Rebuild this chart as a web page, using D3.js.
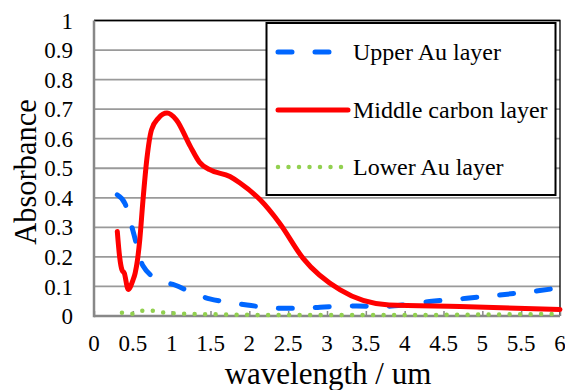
<!DOCTYPE html>
<html>
<head>
<meta charset="utf-8">
<script src="https://cdn.jsdelivr.net/npm/d3@7"></script>
<style>
  body { margin: 0; background: #fff; }
</style>
</head>
<body>
<div id="chart"></div>
<script>
// data
const upperX = [0.3, 0.4, 0.5, 0.63, 0.85, 1.04, 1.27, 1.49, 1.73, 1.97, 2.2, 2.42, 2.67, 2.91, 3.14, 3.38, 3.68, 4.0, 4.32, 4.8, 5.29, 5.74, 6.0];
const upperY = [0.41, 0.38, 0.29, 0.17, 0.12, 0.105, 0.078, 0.058, 0.047, 0.037, 0.03, 0.026, 0.026, 0.03, 0.032, 0.034, 0.032, 0.038, 0.049, 0.06, 0.073, 0.086, 0.096];

const middleX = [0.3, 0.33, 0.36, 0.39, 0.44, 0.5, 0.53, 0.56, 0.59, 0.63, 0.68, 0.74, 0.83, 0.94, 1.06, 1.24, 1.36, 1.49, 1.75, 1.88, 2.14, 2.39, 2.69, 3.17, 3.8, 4.71, 6.0];
const middleY = [0.286, 0.2, 0.156, 0.145, 0.09, 0.12, 0.145, 0.19, 0.26, 0.39, 0.53, 0.63, 0.67, 0.687, 0.664, 0.574, 0.52, 0.495, 0.472, 0.45, 0.393, 0.314, 0.196, 0.088, 0.037, 0.032, 0.022];

const lowerX = [0.36, 0.48, 0.61, 0.74, 0.89, 1.02, 1.5, 2, 2.5, 3, 3.5, 4, 4.5, 5, 5.5, 6.0];
const lowerY = [0.011, 0.007, 0.018, 0.018, 0.012, 0.009, 0.006, 0.004, 0.003, 0.003, 0.003, 0.003, 0.004, 0.005, 0.006, 0.007];

const xTicks = [0, 0.5, 1, 1.5, 2, 2.5, 3, 3.5, 4, 4.5, 5, 5.5, 6];
const yTicks = [0, 0.1, 0.2, 0.3, 0.4, 0.5, 0.6, 0.7, 0.8, 0.9, 1];

const seriesNames = ["Upper Au layer", "Middle carbon layer", "Lower Au layer"];

const font = "'Liberation Serif', Tinos, 'Times New Roman', 'DejaVu Serif', serif";

// setup dimensions
const width = 565;
const height = 390;
const margin = { top: 20.5, right: 5, bottom: 74, left: 94 };
const chartWidth = width - margin.left - margin.right;
const chartHeight = height - margin.top - margin.bottom;

const svg = d3.select("#chart").append("svg")
  .attr("width", width)
  .attr("height", height)
  .attr("font-family", font);

const g = svg.append("g")
  .attr("transform", `translate(${margin.left},${margin.top})`);

const x = d3.scaleLinear().domain([0, 6]).range([0, chartWidth]);
const y = d3.scaleLinear().domain([0, 1]).range([chartHeight, 0]);

// gridlines
g.selectAll("line.grid")
  .data(yTicks.filter(d => d > 0))
  .join("line")
  .attr("class", "grid")
  .attr("x1", 0).attr("x2", chartWidth)
  .attr("y1", d => y(d)).attr("y2", d => y(d))
  .attr("stroke", "#9a9a9a")
  .attr("stroke-width", 1.8);

// top and right frame
g.append("path")
  .attr("d", `M0,${y(1)}H${chartWidth}V${y(0)}`)
  .attr("fill", "none")
  .attr("stroke", "#000")
  .attr("stroke-width", 1.3);

// axes
const xAxis = g.append("g")
  .attr("transform", `translate(0,${chartHeight})`)
  .call(d3.axisTop(x).tickValues(xTicks).tickSize(5).tickFormat(""));
xAxis.select(".domain").remove();
xAxis.selectAll("line").attr("stroke", "#888").attr("stroke-width", 1.5);

g.append("line")
  .attr("x1", 0).attr("x2", chartWidth)
  .attr("y1", chartHeight).attr("y2", chartHeight)
  .attr("stroke", "#888").attr("stroke-width", 2.5);
g.append("line")
  .attr("x1", 0).attr("x2", 0)
  .attr("y1", 0).attr("y2", chartHeight + 1.2)
  .attr("stroke", "#888").attr("stroke-width", 2.5);

// tick labels
g.selectAll("text.xlab")
  .data(xTicks)
  .join("text")
  .attr("class", "xlab")
  .attr("x", d => x(d))
  .attr("y", chartHeight + 34.5)
  .attr("text-anchor", "middle")
  .style("font-size", "23px")
  .text(d => d);

g.selectAll("text.ylab")
  .data(yTicks)
  .join("text")
  .attr("class", "ylab")
  .attr("x", -21)
  .attr("y", d => y(d))
  .attr("dy", "0.35em")
  .attr("text-anchor", "end")
  .style("font-size", "23px")
  .text(d => d);

// axis titles
svg.append("text")
  .attr("x", 328)
  .attr("y", 384)
  .attr("text-anchor", "middle")
  .style("font-size", "31px")
  .text("wavelength / um");

svg.append("text")
  .attr("transform", "translate(36,172) rotate(-90)")
  .attr("text-anchor", "middle")
  .style("font-size", "30.5px")
  .text("Absorbance");

// lines
const line = d3.line()
  .x(d => x(d[0]))
  .y(d => y(d[1]))
  .curve(d3.curveMonotoneX);

const styles = [
  { color: "#0066ff", width: 5, dash: "14 23", cap: "round" },
  { color: "#ff0000", width: 5, dash: null, cap: "round" },
  { color: "#92d050", width: 4.5, dash: "0 10.5", cap: "round" }
];

const series = [
  d3.zip(upperX, upperY),
  d3.zip(middleX, middleY),
  d3.zip(lowerX, lowerY)
];

// draw lower first so the red sits on top like the reference
[2, 0, 1].forEach(i => {
  g.append("path")
    .datum(series[i])
    .attr("d", line)
    .attr("fill", "none")
    .attr("stroke", styles[i].color)
    .attr("stroke-width", styles[i].width)
    .attr("stroke-linecap", styles[i].cap)
    .attr("stroke-linejoin", "round")
    .attr("stroke-dasharray", styles[i].dash);
});

// legend
const legend = svg.append("g");
legend.append("rect")
  .attr("x", 266.5).attr("y", 23)
  .attr("width", 289).attr("height", 172)
  .attr("fill", "#fff")
  .attr("stroke", "#000")
  .attr("stroke-width", 2);

const legendY = [52, 110, 167];
const legendLen = [56, 70, 66];
seriesNames.forEach((name, i) => {
  legend.append("line")
    .attr("x1", 278).attr("x2", 278 + legendLen[i])
    .attr("y1", legendY[i]).attr("y2", legendY[i])
    .attr("stroke", styles[i].color)
    .attr("stroke-width", styles[i].width)
    .attr("stroke-linecap", styles[i].cap)
    .attr("stroke-dasharray", styles[i].dash);
  legend.append("text")
    .attr("x", 353)
    .attr("y", legendY[i])
    .attr("dy", "0.35em")
    .style("font-size", "24px")
    .text(name);
});
</script>
</body>
</html>
